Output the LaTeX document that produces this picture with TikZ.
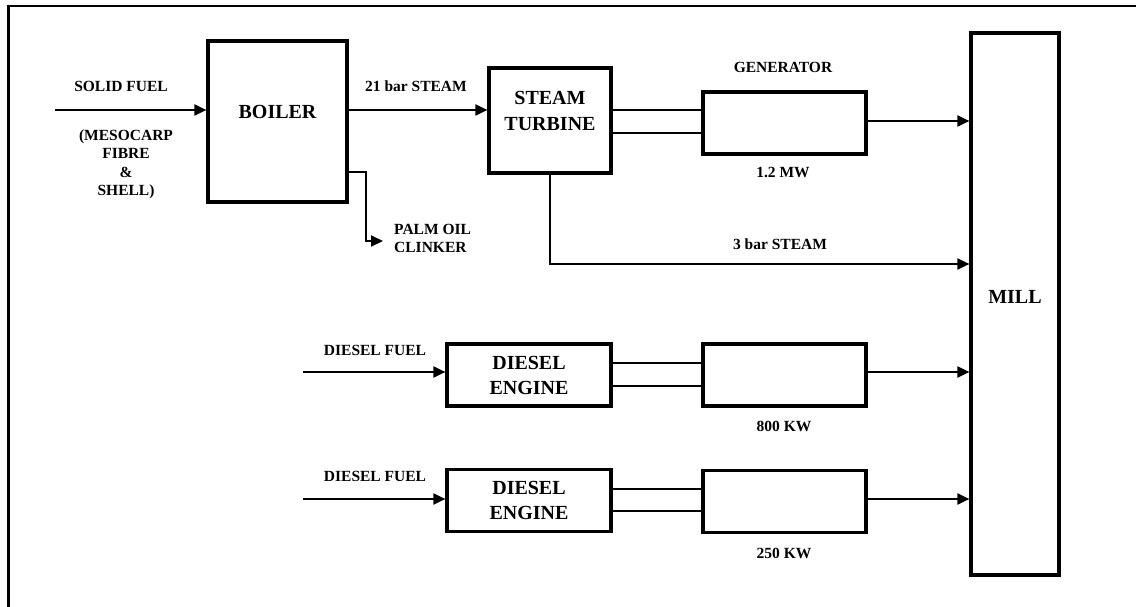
\documentclass[tikz,border=0pt]{standalone}
\usepackage{fontspec}
\setmainfont{Liberation Serif}
\usepackage{tikz}
\usetikzlibrary{arrows.meta,positioning,calc}

\newcommand{\blockfont}{\fontsize{20}{26}\selectfont\bfseries}
\newcommand{\tagfont}{\fontsize{15.5}{18.5}\selectfont\bfseries}

\tikzset{
  block/.style={draw, line width=3.2pt, inner sep=0pt, align=center, font=\blockfont},
  tag/.style={inner sep=0pt, align=center, font=\tagfont},
  flow/.style={line width=2pt, -{Triangle[length=12pt,width=11pt]}},
  shaft/.style={line width=2pt}
}

\begin{document}
\begin{tikzpicture}[x=1pt,y=-1pt]
  \useasboundingbox (0,0) rectangle (1136,607);
  \clip (0,0) rectangle (1136,607);
  \draw[line width=2.4pt] (8.5,620) -- (8.5,6) -- (1150,6);

  % blocks
  \node[block, minimum width=139, minimum height=161] (boiler) at (277.5,121.5) {};
  \node[inner sep=0pt, font=\blockfont] (boilertxt) at ([yshift=10pt]boiler.center) {BOILER};
  \node[block, minimum width=122, minimum height=105] (turbine) at (550,120.5) {};
  \node[inner sep=0pt, align=center, font=\blockfont] (turbinetxt) at ([yshift=9.5pt]turbine.center) {STEAM\\TURBINE};
  \node[block, minimum width=163, minimum height=62] (gen1) at (784.5,123) {};
  \node[block, minimum width=164, minimum height=62, font=\fontsize{20}{25}\selectfont\bfseries] (eng1) at (529,375) {DIESEL\\ENGINE};
  \node[block, minimum width=163, minimum height=62] (gen2) at (784.5,375) {};
  \node[block, minimum width=164, minimum height=62, font=\fontsize{20}{25}\selectfont\bfseries] (eng2) at (529,500.5) {DIESEL\\ENGINE};
  \node[block, minimum width=163, minimum height=62] (gen3) at (784.5,501.5) {};
  \node[block, minimum width=88, minimum height=542] (mill) at (1015,304) {};
  \node[inner sep=0pt, font=\blockfont] (milltxt) at ([yshift=7pt]mill.center) {MILL};

  % free ends
  \coordinate (sf) at (55,110);
  \coordinate (clk) at (383,241);
  \coordinate (df1) at (303,372);
  \coordinate (df2) at (303,499);

  % steam side
  \draw[flow] (sf) -- (sf -| boiler.west);
  \draw[flow] (boiler.east |- sf) -- (sf -| turbine.west);
  \draw[flow] (boiler.east |- 0,172) -- (366,172) |- (clk);
  \foreach \y in {110,133}
    \draw[shaft] (turbine.east |- 0,\y) -- (gen1.west |- 0,\y);
  \draw[flow] (gen1.east |- 0,121) -- (mill.west |- 0,121);
  \draw[flow] (turbine.south) |- (mill.west |- 0,264);

  % diesel sets
  \draw[flow] (df1) -- (df1 -| eng1.west);
  \draw[flow] (df2) -- (df2 -| eng2.west);
  \foreach \y in {363,386}
    \draw[shaft] (eng1.east |- 0,\y) -- (gen2.west |- 0,\y);
  \foreach \y in {489,511}
    \draw[shaft] (eng2.east |- 0,\y) -- (gen3.west |- 0,\y);
  \draw[flow] (gen2.east |- df1) -- (df1 -| mill.west);
  \draw[flow] (gen3.east |- df2) -- (df2 -| mill.west);

  % labels
  \node[tag] (sflbl) at (121,86) {SOLID FUEL};
  \node[tag] (sfkind) at (126,164.5) {(MESOCARP\\FIBRE\\\&\\SHELL)};
  \node[tag] (hpsteam) at (416,86) {21 bar STEAM};
  \node[tag, align=left, anchor=west] (clklbl) at (394,238.5) {PALM OIL\\CLINKER};
  \node[tag] (genlbl) at (783,67) {GENERATOR};
  \node[tag] (gen1kw) at (783,172) {1.2 MW};
  \node[tag] (lpsteam) at (780,244) {3 bar STEAM};
  \node[tag] (df1lbl) at (375,350) {DIESEL FUEL};
  \node[tag] (df2lbl) at (375,476) {DIESEL FUEL};
  \node[tag] (gen2kw) at (784,426) {800 KW};
  \node[tag] (gen3kw) at (784,553) {250 KW};
\end{tikzpicture}
\end{document}
